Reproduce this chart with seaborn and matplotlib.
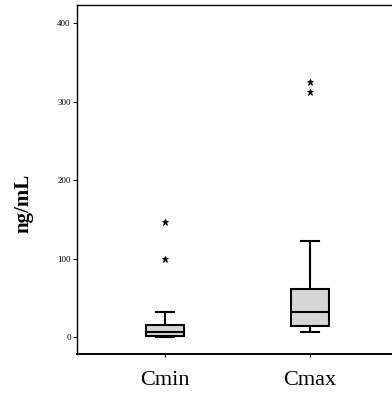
import matplotlib
matplotlib.use("Agg")
import matplotlib.pyplot as plt
import seaborn as sns
import pandas as pd

categories = ["Cmin", "Cmax"]
cmin_values = [0, 0.3, 0.6, 1, 1.2, 2, 3, 4.5, 6, 7, 10, 13, 15, 22, 32, 99, 147]
cmax_values = [6, 9, 11, 13, 14, 18, 24, 28, 31.5, 36, 42, 52, 61, 80, 122, 312, 325]
y_ticks = [0, 100, 200, 300, 400]
y_label = "ng/mL"

df = pd.DataFrame({
    "group": [categories[0]] * len(cmin_values) + [categories[1]] * len(cmax_values),
    "value": cmin_values + cmax_values,
})

fig = plt.figure(figsize=(3.92, 3.98), dpi=100)
W, H = 392, 398
ax = fig.add_axes([77 / W, (H - 354) / H, (W - 77) / W, (354 - 5) / H])

sns.boxplot(
    data=df, x="group", y="value", order=categories, ax=ax,
    color="#d6d6d6", linecolor="black", linewidth=1.5, width=0.26,
    whis=1.5,
    flierprops=dict(marker="*", markersize=4.5, markerfacecolor="black",
                    markeredgecolor="black", markeredgewidth=0.6),
)

ax.set_xlim(-0.607, 1.566)
ax.set_ylim(-21.6, 423)
ax.set_yticks(y_ticks)
ax.set_yticklabels([str(t) for t in y_ticks], fontsize=6.5, family="Liberation Serif")
ax.tick_params(axis="y", direction="out", length=3, width=0.8, pad=1.5)
ax.tick_params(axis="x", direction="out", length=2, width=0.8, pad=10)
for lab in ax.get_xticklabels():
    lab.set_fontsize(16)
    lab.set_family("Liberation Serif")
ax.set_xlabel("")
ax.set_ylabel(y_label, fontsize=15, fontweight="bold", family="Liberation Serif")
ax.yaxis.set_label_coords(-0.137, 0.433)

ax.spines["right"].set_visible(False)
for s in ["left", "top"]:
    ax.spines[s].set_linewidth(1.0)
ax.spines["bottom"].set_linewidth(1.4)

fig.savefig("out.png", dpi=100)
